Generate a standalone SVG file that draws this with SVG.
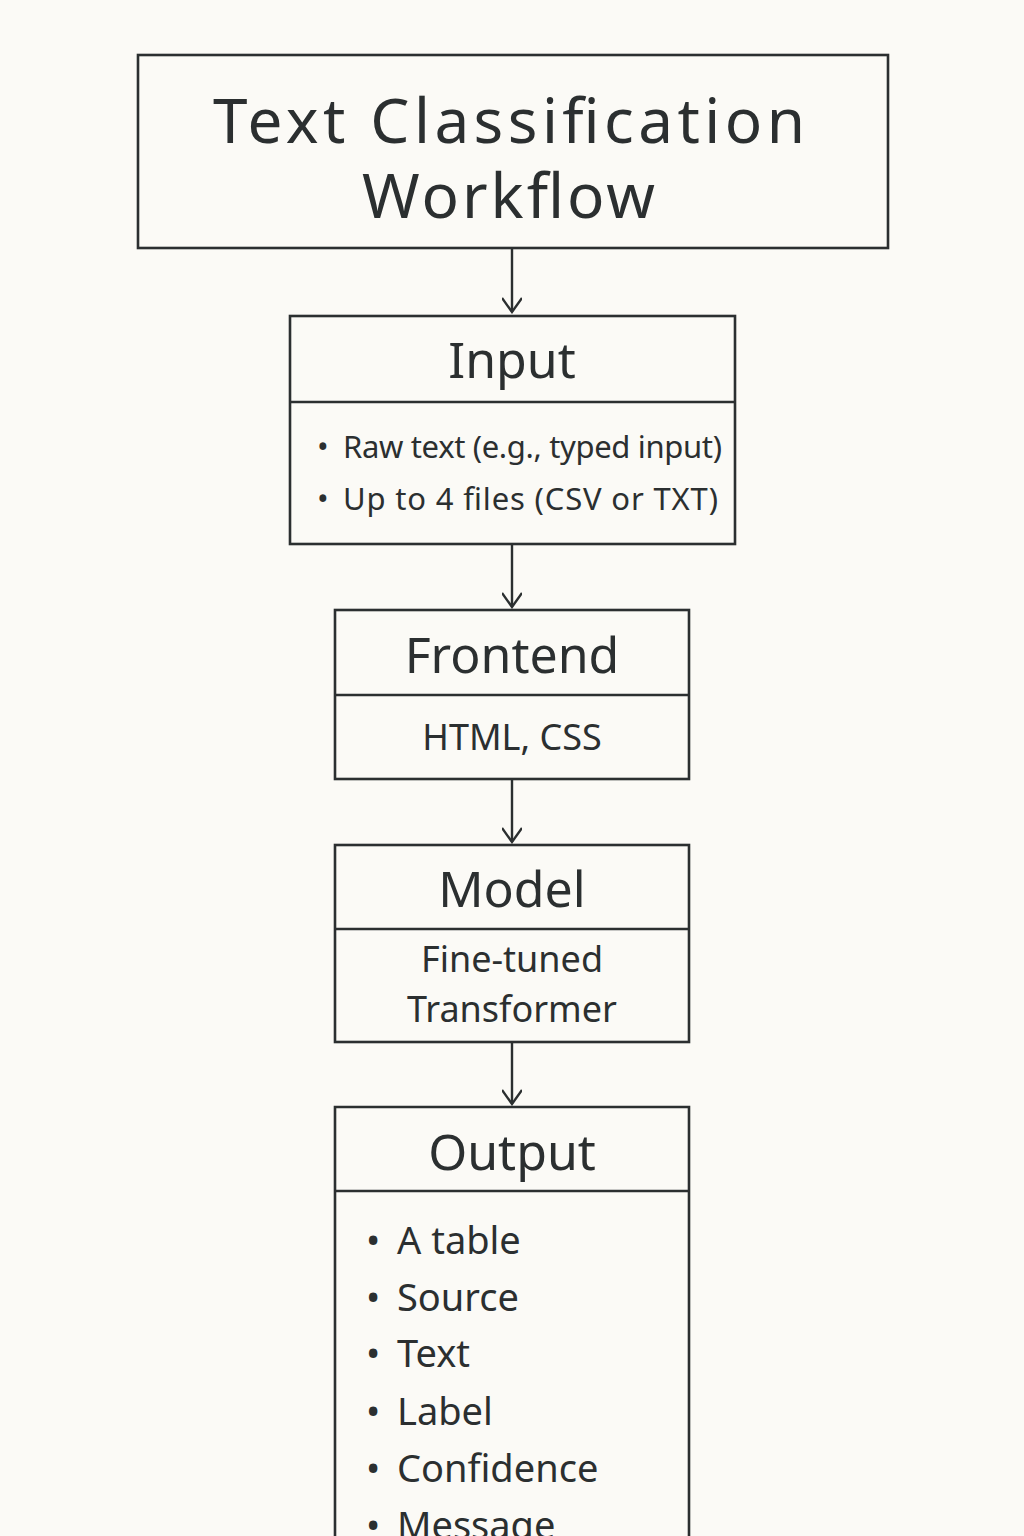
<svg xmlns="http://www.w3.org/2000/svg" width="1024" height="1536" viewBox="0 0 1024 1536">
<defs>
<style>
.box{fill:none;stroke:#2b2f30;stroke-width:2.6}
.ln{stroke:#2b2f30;stroke-width:2.4;fill:none}
.t{font-family:"Noto Sans","Lato",sans-serif;fill:#2b2f30}
.h{font-size:50px;text-anchor:middle}
.b{font-size:31px}
.c{font-size:36px;text-anchor:middle}
.o{font-size:38px}
</style>
<marker id="ah" viewBox="0 0 20 20" refX="18" refY="10" markerWidth="20" markerHeight="20" markerUnits="userSpaceOnUse" orient="auto">
<path d="M4,0 L18,10 L4,20" fill="none" stroke="#2b2f30" stroke-width="2.4"/>
</marker>
</defs>
<rect width="1024" height="1536" fill="#fbfaf6"/>
<g id="connectors">
<line class="ln" x1="512" y1="249" x2="512" y2="312" marker-end="url(#ah)"/>
<line class="ln" x1="512" y1="545" x2="512" y2="607" marker-end="url(#ah)"/>
<line class="ln" x1="512" y1="780" x2="512" y2="842" marker-end="url(#ah)"/>
<line class="ln" x1="512" y1="1043" x2="512" y2="1104" marker-end="url(#ah)"/>
</g>
<g id="title">
<rect class="box" x="138" y="55" width="750" height="193"/>
<text class="t" x="213" y="143" font-size="62" textLength="592" lengthAdjust="spacing">Text Classification</text>
<text class="t" x="362" y="218" font-size="62" textLength="293" lengthAdjust="spacing">Workflow</text>
</g>
<g id="input">
<rect class="box" x="290" y="316" width="445" height="228"/>
<line class="ln" x1="290" y1="402" x2="735" y2="402"/>
<text class="t h" x="512" y="378">Input</text>
<text class="t b" x="317" y="458">•</text>
<text class="t b" x="343" y="458" textLength="379" lengthAdjust="spacing">Raw text (e.g., typed input)</text>
<text class="t b" x="317" y="510">•</text>
<text class="t b" x="343" y="510" textLength="375" lengthAdjust="spacing">Up to 4 files (CSV or TXT)</text>
</g>
<g id="frontend">
<rect class="box" x="335" y="610" width="354" height="169"/>
<line class="ln" x1="335" y1="695" x2="689" y2="695"/>
<text class="t h" x="512" y="673">Frontend</text>
<text class="t c" x="512" y="750">HTML, CSS</text>
</g>
<g id="model">
<rect class="box" x="335" y="845" width="354" height="197"/>
<line class="ln" x1="335" y1="929" x2="689" y2="929"/>
<text class="t h" x="512" y="907">Model</text>
<text class="t c" x="512" y="972">Fine-tuned</text>
<text class="t c" x="512" y="1022">Transformer</text>
</g>
<g id="output">
<path class="box" d="M335,1540 L335,1107 L689,1107 L689,1540"/>
<line class="ln" x1="335" y1="1191" x2="689" y2="1191"/>
<text class="t h" x="512" y="1170">Output</text>
<text class="t o" x="366" y="1254">•</text><text class="t o" x="397" y="1254">A table</text>
<text class="t o" x="366" y="1311">•</text><text class="t o" x="397" y="1311">Source</text>
<text class="t o" x="366" y="1367">•</text><text class="t o" x="397" y="1367">Text</text>
<text class="t o" x="366" y="1425">•</text><text class="t o" x="397" y="1425">Label</text>
<text class="t o" x="366" y="1482">•</text><text class="t o" x="397" y="1482">Confidence</text>
<text class="t o" x="366" y="1539">•</text><text class="t o" x="397" y="1539">Message</text>
</g>
</svg>
